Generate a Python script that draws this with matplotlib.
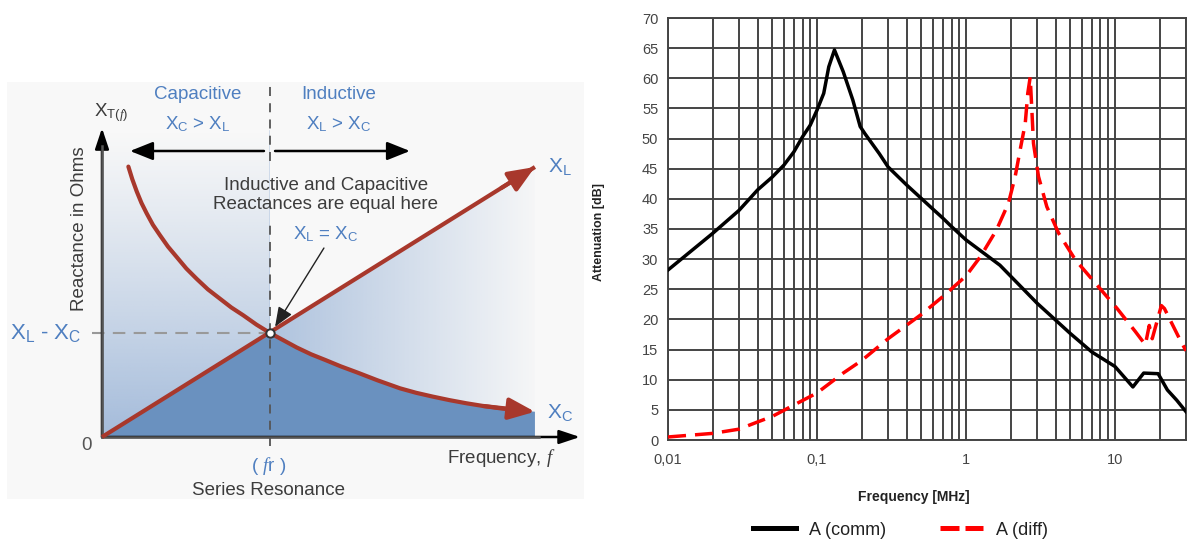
import matplotlib
matplotlib.use("Agg")
import matplotlib.pyplot as plt
import numpy as np
from matplotlib.patches import Polygon
from matplotlib.lines import Line2D

plt.rcParams['font.family'] = ['Liberation Sans', 'DejaVu Sans']
plt.rcParams['mathtext.fontset'] = 'custom'
plt.rcParams['mathtext.rm'] = 'Liberation Sans'
plt.rcParams['mathtext.it'] = 'Liberation Serif:italic'
plt.rcParams['mathtext.bf'] = 'Liberation Sans:bold'

# --- left sketch: frequency in units of fr, reactance in units of X(fr)
f_res = 1.0
x_res = 1.0
xl_f = [0.0, 2.577]
xl_x = [0.0, 2.596]
xc_f = [0.157, 0.18, 0.207, 0.235, 0.266, 0.303, 0.345, 0.393, 0.445, 0.502,
        0.564, 0.63, 0.702, 0.77, 0.841, 0.92, 1.0, 1.08, 1.16, 1.245, 1.33,
        1.42, 1.52, 1.64, 1.774, 1.87, 1.97, 2.07, 2.17, 2.27, 2.37, 2.47, 2.577]
xc_x = [2.60, 2.48, 2.36, 2.25, 2.15, 2.04, 1.94, 1.83, 1.73, 1.62,
        1.52, 1.42, 1.33, 1.245, 1.17, 1.08, 1.0, 0.93, 0.86, 0.795, 0.74,
        0.68, 0.62, 0.545, 0.468, 0.425, 0.388, 0.354, 0.324, 0.298, 0.276, 0.258, 0.243]

# --- right chart: attenuation vs frequency [MHz]
comm_f = [0.01, 0.02, 0.03, 0.04, 0.05, 0.06, 0.07, 0.08, 0.09, 0.1, 0.111,
          0.12, 0.131, 0.15, 0.174, 0.195, 0.21, 0.262, 0.3, 0.4, 0.5, 0.6,
          0.7, 0.8, 1.0, 1.69, 3, 5, 7, 10, 13.2, 15.6, 19.5, 22.5, 26, 30]
comm_db = [28.2, 34.3, 38.1, 41.5, 43.6, 45.6, 47.8, 50.3, 52.2, 54.7, 57.5,
           61.9, 64.7, 61.1, 56.4, 52.0, 50.8, 47.5, 45.3, 42.3, 40.1, 38.3,
           36.8, 35.4, 33.2, 29.0, 22.7, 17.7, 14.6, 12.2, 8.8, 11.1, 11.0,
           8.3, 6.6, 4.7]
diff_f = [0.01, 0.02, 0.03, 0.04, 0.05, 0.07, 0.1, 0.15, 0.2, 0.3, 0.5, 0.7,
          1.0, 1.25, 1.6, 1.93, 2.14, 2.31, 2.5, 2.6, 2.7, 2.77, 2.84, 3.07,
          3.49, 4.19, 5.42, 7.4, 10.35, 13.7, 16.0, 17.0, 17.8, 20.5, 21.5,
          27.0, 30.0]
diff_db = [0.5, 1.1, 1.8, 3.0, 3.9, 5.8, 7.8, 11.1, 13.2, 16.8, 20.8, 23.8,
           27.2, 30.4, 34.8, 39.3, 43.7, 48.1, 52.5, 57.5, 60.2, 54.7, 49.2,
           43.7, 38.7, 34.3, 29.9, 26.0, 21.8, 18.0, 15.8, 19.0, 16.8, 22.3,
           21.8, 16.9, 14.8]
x_ticks = [0.01, 0.1, 1, 10]
x_ticklabels = ['0,01', '0,1', '1', '10']
y_ticks = list(range(0, 75, 5))
legend_labels = ['A (comm)', 'A (diff)']

BLUE = '#4f7fc0'
GREY_TXT = '#3c3c3c'
RED = '#a8382c'
BG = '#f8f8f8'

fig = plt.figure(figsize=(11.88, 5.41), dpi=100)

# ================= left: series resonance sketch =================
axl = fig.add_axes([7 / 1188, 1 - 499 / 541, 577 / 1188, 417 / 541])
axl.set_facecolor(BG)
for s in axl.spines.values():
    s.set_visible(False)
axl.set_xticks([])
axl.set_yticks([])

# light gradient shading (vertical fade left of fr, horizontal fade right of it)
gx = np.linspace(0, 2.6, 300)
gy = np.linspace(0, 3.0, 300)
GX, GY = np.meshgrid(gx, gy)
alpha = np.where(GX < f_res, 0.78 * np.clip(1 - GY / 2.95, 0, 1) ** 1.15,
                 0.68 * np.clip((2.64 - GX) / 1.64, 0, 1))
rgba = np.zeros((300, 300, 4))
rgba[..., 0] = 140 / 255
rgba[..., 1] = 170 / 255
rgba[..., 2] = 210 / 255
rgba[..., 3] = np.clip(alpha, 0, 1)
im = axl.imshow(rgba, extent=(0, 2.6, 0, 3.0), origin='lower', aspect='auto', zorder=1)
clip = Polygon([(0, 0), (0, 2.95), (f_res, 2.95), (f_res, x_res),
                (xl_f[1], xl_x[1]), (xl_f[1], 0)], transform=axl.transData)
im.set_clip_path(clip)

# dark fill under the lower of the two curves
verts = [(0, 0), (f_res, x_res)]
verts += [(f, x) for f, x in zip(xc_f, xc_x) if f > f_res]
verts += [(xc_f[-1], 0)]
axl.add_patch(Polygon(verts, closed=True, facecolor='#6a91bf', edgecolor='none', zorder=2))

# dashed guides (vertical one interrupted behind the caption)
axl.plot([f_res, f_res], [2.65, 3.39], color='#555555', lw=1.3, ls=(0, (5, 4)), zorder=3)
axl.plot([f_res, f_res], [-0.09, 2.04], color='#555555', lw=1.3, ls=(0, (5, 4)), zorder=3)
axl.plot([-0.06, f_res], [x_res, x_res], color='#999999', lw=1.5, ls=(0, (6, 4)), zorder=3)

# axes with arrows
arrow_kw = dict(arrowstyle='-|>,head_length=0.9,head_width=0.3', mutation_scale=14,
                color='#555555', fc='black', ec='black', lw=1.8, shrinkA=0, shrinkB=0)
axl.annotate('', xy=(0, 2.97), xytext=(0, 0), arrowprops=arrow_kw, zorder=4)
axl.annotate('', xy=(2.845, 0), xytext=(0, 0), arrowprops=arrow_kw, zorder=4)
axl.plot([0, 2.6], [0, 0], color='#555555', lw=1.8, zorder=4)
axl.plot([0, 0], [0, 2.8], color='#555555', lw=1.8, zorder=4)

# capacitive / inductive double arrow
for x0, x1 in [(0.964, 0.167), (1.03, 1.833)]:
    axl.annotate('', xy=(x1, 2.75), xytext=(x0, 2.75),
                 arrowprops=dict(arrowstyle='-|>,head_length=1.0,head_width=0.4', mutation_scale=14,
                                 color='#444444', fc='black', ec='black', lw=1.8,
                                 shrinkA=0, shrinkB=0), zorder=4)

# reactance curves
axl.plot(xl_f, xl_x, color=RED, lw=3, solid_capstyle='butt', zorder=5)
axl.annotate('', xy=(xl_f[1], xl_x[1]), xytext=(xl_f[1] - 0.2, xl_x[1] - 0.2 * xl_x[1] / xl_f[1]),
             arrowprops=dict(arrowstyle='-|>,head_length=0.8,head_width=0.33', mutation_scale=20,
                             color=RED, lw=3, shrinkA=0, shrinkB=0), zorder=6)
axl.plot(xc_f[:-1], xc_x[:-1], color=RED, lw=3, solid_capstyle='round',
         solid_joinstyle='round', zorder=5)
axl.annotate('', xy=(xc_f[-1], xc_x[-1]), xytext=(xc_f[-4], xc_x[-4]),
             arrowprops=dict(arrowstyle='-|>,head_length=0.8,head_width=0.33', mutation_scale=20,
                             color=RED, lw=3, shrinkA=0, shrinkB=0), zorder=6)

axl.plot([f_res], [x_res], 'o', ms=6, mfc='white', mec='#333333', mew=1.4, zorder=7)

# labels
axl.text(0.571, 3.29, 'Capacitive', color=BLUE, fontsize=13.5, ha='center', va='center')
axl.text(0.571, 3.01, r'X$_\mathrm{C}$ > X$_\mathrm{L}$', color=BLUE, fontsize=13.5, ha='center', va='center')
axl.text(1.411, 3.29, 'Inductive', color=BLUE, fontsize=13.5, ha='center', va='center')
axl.text(1.411, 3.01, r'X$_\mathrm{L}$ > X$_\mathrm{C}$', color=BLUE, fontsize=13.5, ha='center', va='center')
axl.text(-0.045, 3.12, r'X$_{\mathrm{T(}\mathit{f}\mathrm{)}}$', color=GREY_TXT, fontsize=13.5, ha='left', va='center')
axl.text(-0.131, 2.0, 'Reactance in Ohms', color=GREY_TXT, fontsize=13.5, rotation=90, ha='center', va='center')
axl.text(1.333, 2.327, 'Inductive and Capacitive\nReactances are equal here', color=GREY_TXT,
         fontsize=13.5, ha='center', va='center', linespacing=1.2, zorder=6)
axl.text(1.333, 1.95, r'X$_\mathrm{L}$ = X$_\mathrm{C}$', color=BLUE, fontsize=13.5, ha='center', va='center')
axl.annotate('', xy=(1.03, 1.06), xytext=(1.321, 1.817),
             arrowprops=dict(arrowstyle='-|>,head_length=1.0,head_width=0.4', mutation_scale=12,
                             color='#222222', lw=1.0, shrinkA=0, shrinkB=0), zorder=6)
axl.text(-0.333, 1.0, r'X$_\mathrm{L}$ - X$_\mathrm{C}$', color=BLUE, fontsize=16, ha='center', va='center')
axl.text(2.655, 2.6, r'X$_\mathrm{L}$', color=BLUE, fontsize=15, ha='left', va='center')
axl.text(2.649, 0.24, r'X$_\mathrm{C}$', color=BLUE, fontsize=15, ha='left', va='center')
axl.text(-0.095, -0.077, '0', color='#555555', fontsize=13.5, ha='center', va='center')
axl.text(2.375, -0.2, r'Frequency, $\mathit{f}$', color=GREY_TXT, fontsize=13.5, ha='center', va='center')
axl.text(0.994, -0.28, r'( $\mathit{f}$r )', color=BLUE, fontsize=13.5, ha='center', va='center')
axl.text(0.994, -0.51, 'Series Resonance', color=GREY_TXT, fontsize=13.5, ha='center', va='center')

axl.set_xlim(-95 / 168, 482 / 168)
axl.set_ylim(-62 / 104, 355 / 104)

# ================= right: attenuation chart =================
axr = fig.add_axes([668 / 1188, 1 - 440 / 541, 518 / 1188, 422 / 541])
axr.plot(comm_f, comm_db, color='black', lw=2.5, zorder=3)
axr.plot(diff_f, diff_db, color='#ff0000', lw=2.5, ls=(0, (5.2, 2.6)), zorder=3)
axr.set_xscale('log')
axr.set_xlim(0.01, 30)
axr.set_ylim(0, 70)
axr.set_xticks(x_ticks)
axr.set_xticklabels(x_ticklabels)
axr.set_yticks(y_ticks)
axr.xaxis.set_minor_locator(matplotlib.ticker.LogLocator(base=10, subs=np.arange(2, 10)))
axr.xaxis.set_minor_formatter(matplotlib.ticker.NullFormatter())
axr.grid(True, which='both', axis='x', color='#444444', lw=1.4)
axr.grid(True, which='major', axis='y', color='#444444', lw=1.4)
axr.tick_params(which='both', length=0, labelsize=10.5, labelcolor='#444444')
axr.tick_params(axis='y', pad=7)
axr.tick_params(axis='x', pad=9)
for s in axr.spines.values():
    s.set_color('#444444')
    s.set_linewidth(1.4)
axr.set_axisbelow(True)
axr.set_ylabel('Attenuation [dB]', fontsize=9, fontweight='bold', color='#222222')
axr.yaxis.set_label_coords(-0.1216, 0.493)
axr.set_xlabel('Frequency [MHz]', fontsize=10, fontweight='bold', color='#222222')
axr.xaxis.set_label_coords(0.475, -0.1185)

handles = [Line2D([], [], color='black', lw=3.6),
           Line2D([], [], color='#ff0000', lw=3.6, ls=(0, (3.8, 1.2)))]
fig.legend(handles, legend_labels, loc='center', bbox_to_anchor=(0.758, 0.0203), ncol=2,
           frameon=False, fontsize=13, handlelength=2.4, columnspacing=3,
           handletextpad=0.7, labelcolor='#222222')

fig.savefig('out.png', dpi=100, facecolor='white')
